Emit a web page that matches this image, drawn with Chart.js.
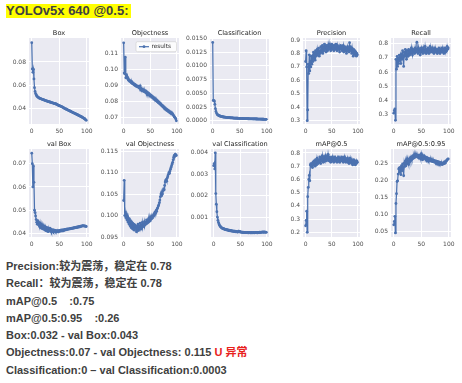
<!DOCTYPE html>
<html><head><meta charset="utf-8">
<script src="https://cdn.jsdelivr.net/npm/chart.js@4.4.1/dist/chart.umd.min.js"></script>
<style>
body{margin:0;background:#fff;}
#root{position:relative;width:462px;height:383px;overflow:hidden;background:#fff;}
canvas{position:absolute;}
.hdr{position:absolute;left:6px;top:4px;height:14px;padding-right:2px;background:#ffff00;font:bold 13px "Liberation Sans",Arial,sans-serif;color:#404040;line-height:14px;white-space:nowrap;}
.ln{position:absolute;left:6px;font:bold 11px "Liberation Sans",Arial,"Noto Sans CJK SC",sans-serif;color:#404040;line-height:13px;white-space:pre;}
.red{color:#e8211c;}
</style></head><body><div id="root">
<div class="hdr">YOLOv5x 640 @0.5:</div>
<div class="ln" style="top:260px">Precision:较为震荡，稳定在 0.78</div>
<div class="ln" style="top:277px">Recall：较为震荡，稳定在 0.78</div>
<div class="ln" style="top:294.5px">mAP@0.5    :0.75</div>
<div class="ln" style="top:311.5px">mAP@0.5:0.95    :0.26</div>
<div class="ln" style="top:329px">Box:0.032 - val Box:0.043</div>
<div class="ln" style="top:346px">Objectness:0.07 - val Objectness: 0.115 <span class="red">U 异常</span></div>
<div class="ln" style="top:363.5px">Classification:0 – val Classification:0.0003</div>
</div>
<script>
// ---- data (epoch index 0..99) ----
const xTicks = [0, 50, 100];

const boxLoss = [0.0965,0.0740,0.0712,0.0738,0.0655,0.0580,0.0548,0.0530,0.0520,0.0512,
0.0505,0.0500,0.0497,0.0494,0.0491,0.0489,0.0487,0.0485,0.0483,0.0481,
0.0479,0.0478,0.0476,0.0474,0.0472,0.0470,0.0468,0.0467,0.0465,0.0464,
0.0462,0.0461,0.0459,0.0458,0.0456,0.0455,0.0453,0.0451,0.0450,0.0449,
0.0447,0.0446,0.0444,0.0443,0.0441,0.0439,0.0437,0.0434,0.0431,0.0428,
0.0426,0.0425,0.0423,0.0421,0.0419,0.0417,0.0414,0.0412,0.0408,0.0405,
0.0402,0.0400,0.0398,0.0396,0.0394,0.0391,0.0389,0.0386,0.0384,0.0382,
0.0379,0.0377,0.0375,0.0372,0.0370,0.0367,0.0365,0.0363,0.0361,0.0358,
0.0356,0.0354,0.0351,0.0349,0.0347,0.0344,0.0342,0.0340,0.0337,0.0335,
0.0332,0.0330,0.0327,0.0324,0.0321,0.0318,0.0315,0.0311,0.0306,0.0301];

const objLoss = [0.1170,0.0980,0.0975,0.1080,0.0950,0.0970,0.0960,0.0945,0.0950,0.0935,
0.0938,0.0928,0.0932,0.0925,0.0920,0.0926,0.0915,0.0918,0.0910,0.0912,
0.0905,0.0908,0.0900,0.0903,0.0896,0.0900,0.0893,0.0897,0.0890,0.0895,
0.0888,0.0900,0.0885,0.0872,0.0878,0.0868,0.0875,0.0865,0.0872,0.0862,
0.0870,0.0858,0.0866,0.0852,0.0860,0.0848,0.0855,0.0845,0.0850,0.0840,
0.0844,0.0836,0.0840,0.0830,0.0834,0.0825,0.0828,0.0818,0.0822,0.0812,
0.0815,0.0806,0.0810,0.0800,0.0803,0.0794,0.0797,0.0788,0.0791,0.0782,
0.0785,0.0776,0.0779,0.0770,0.0773,0.0764,0.0767,0.0758,0.0761,0.0753,
0.0755,0.0747,0.0750,0.0742,0.0745,0.0737,0.0740,0.0732,0.0735,0.0727,
0.0730,0.0722,0.0725,0.0717,0.0712,0.0706,0.0703,0.0697,0.0692,0.0680];

const clsLoss = [0.01430,0.00370,0.00365,0.00360,0.00300,0.00220,0.00170,0.00140,0.00122,0.00110,
0.00102,0.00096,0.00091,0.00087,0.00083,0.00080,0.00077,0.00075,0.00072,0.00070,
0.00068,0.00067,0.00065,0.00064,0.00062,0.00061,0.00060,0.00059,0.00058,0.00057,
0.00056,0.00055,0.00054,0.00053,0.00052,0.00052,0.00051,0.00050,0.00049,0.00049,
0.00048,0.00047,0.00047,0.00046,0.00046,0.00045,0.00045,0.00044,0.00044,0.00043,
0.00043,0.00042,0.00042,0.00041,0.00041,0.00040,0.00040,0.00040,0.00039,0.00039,
0.00038,0.00038,0.00037,0.00037,0.00037,0.00036,0.00036,0.00036,0.00035,0.00035,
0.00035,0.00034,0.00034,0.00034,0.00033,0.00033,0.00033,0.00032,0.00032,0.00032,
0.00031,0.00031,0.00031,0.00030,0.00030,0.00030,0.00029,0.00029,0.00029,0.00028,
0.00028,0.00028,0.00027,0.00027,0.00027,0.00026,0.00026,0.00026,0.00025,0.00025];

const precision = [0.74,0.82,0.70,0.30,0.38,0.72,0.65,0.79,0.67,0.74,
0.70,0.78,0.72,0.77,0.74,0.81,0.76,0.79,0.75,0.82,
0.78,0.80,0.83,0.79,0.81,0.84,0.78,0.82,0.80,0.85,
0.81,0.83,0.86,0.80,0.84,0.82,0.87,0.83,0.85,0.81,
0.86,0.84,0.82,0.86,0.83,0.87,0.84,0.86,0.82,0.85,
0.87,0.83,0.86,0.84,0.82,0.86,0.85,0.83,0.87,0.84,
0.82,0.86,0.84,0.83,0.85,0.81,0.84,0.86,0.83,0.85,
0.82,0.84,0.86,0.81,0.83,0.85,0.82,0.84,0.80,0.83,
0.85,0.82,0.84,0.81,0.88,0.83,0.85,0.82,0.80,0.84,
0.81,0.78,0.83,0.80,0.82,0.79,0.81,0.78,0.80,0.79];

const recall = [0.31,0.33,0.34,0.26,0.69,0.62,0.71,0.64,0.70,0.66,
0.72,0.68,0.71,0.66,0.73,0.69,0.75,0.70,0.64,0.74,
0.71,0.76,0.72,0.69,0.75,0.73,0.71,0.76,0.74,0.72,
0.75,0.73,0.77,0.74,0.72,0.76,0.74,0.75,0.73,0.77,
0.74,0.76,0.81,0.75,0.73,0.77,0.74,0.76,0.72,0.75,
0.77,0.74,0.76,0.73,0.77,0.75,0.74,0.78,0.75,0.73,
0.76,0.74,0.77,0.75,0.73,0.76,0.78,0.74,0.76,0.75,
0.77,0.74,0.76,0.73,0.75,0.77,0.74,0.76,0.75,0.73,
0.76,0.74,0.77,0.75,0.73,0.76,0.74,0.75,0.77,0.74,
0.76,0.73,0.75,0.77,0.74,0.76,0.75,0.78,0.76,0.77];

const valBox = [0.0745,0.0700,0.0600,0.0690,0.0620,0.0500,0.0490,0.0475,0.0460,0.0448,
0.0440,0.0455,0.0438,0.0448,0.0430,0.0445,0.0425,0.0440,0.0422,0.0437,
0.0420,0.0433,0.0418,0.0430,0.0415,0.0428,0.0412,0.0426,0.0410,0.0424,
0.0408,0.0420,0.0412,0.0423,0.0410,0.0418,0.0408,0.0416,0.0410,0.0415,
0.0408,0.0414,0.0410,0.0413,0.0407,0.0412,0.0409,0.0411,0.0406,0.0412,
0.0409,0.0413,0.0410,0.0414,0.0411,0.0415,0.0412,0.0416,0.0413,0.0417,
0.0415,0.0418,0.0416,0.0419,0.0417,0.0420,0.0418,0.0420,0.0419,0.0421,
0.0420,0.0422,0.0421,0.0423,0.0422,0.0424,0.0423,0.0425,0.0424,0.0426,
0.0425,0.0427,0.0426,0.0428,0.0427,0.0429,0.0428,0.0430,0.0429,0.0432,
0.0431,0.0433,0.0432,0.0434,0.0433,0.0432,0.0433,0.0431,0.0432,0.0430];

const valObj = [0.1035,0.1082,0.1000,0.1008,0.0995,0.1003,0.0990,0.0998,0.0985,0.0994,
0.0980,0.0992,0.0976,0.0988,0.0972,0.0985,0.0970,0.0982,0.0968,0.0980,
0.0966,0.0978,0.0970,0.0975,0.0962,0.0976,0.0968,0.0980,0.0965,0.0974,
0.0970,0.0982,0.0968,0.0976,0.0972,0.0984,0.0974,0.0980,0.0976,0.0986,
0.0978,0.0984,0.0980,0.0990,0.0982,0.0988,0.0984,0.0992,0.0986,0.0994,
0.0988,0.0996,0.0992,0.0998,0.0994,0.1000,0.0998,0.1004,0.1002,0.1008,
0.1006,0.1012,0.1010,0.1016,0.1018,0.1022,0.1025,0.1030,0.1036,0.1044,
0.1050,0.1046,0.1054,0.1050,0.1058,0.1062,0.1060,0.1070,0.1078,0.1082,
0.1084,0.1080,0.1088,0.1092,0.1096,0.1100,0.1098,0.1104,0.1108,0.1112,
0.1116,0.1120,0.1124,0.1130,0.1136,0.1140,0.1138,0.1143,0.1141,0.1140];

const valCls = [0.00340,0.00350,0.00325,0.00400,0.00210,0.00160,0.00125,0.00100,0.00085,0.00075,
0.00068,0.00062,0.00058,0.00055,0.00052,0.00050,0.00048,0.00047,0.00045,0.00046,
0.00043,0.00044,0.00041,0.00042,0.00040,0.00041,0.00039,0.00040,0.00037,0.00039,
0.00037,0.00036,0.00038,0.00035,0.00036,0.00034,0.00035,0.00033,0.00034,0.00032,
0.00034,0.00031,0.00033,0.00031,0.00032,0.00030,0.00032,0.00034,0.00031,0.00033,
0.00030,0.00031,0.00029,0.00030,0.00028,0.00030,0.00029,0.00027,0.00029,0.00028,
0.00027,0.00029,0.00028,0.00027,0.00028,0.00026,0.00028,0.00027,0.00028,0.00026,
0.00027,0.00028,0.00026,0.00027,0.00028,0.00027,0.00026,0.00028,0.00027,0.00029,
0.00027,0.00028,0.00026,0.00028,0.00027,0.00029,0.00028,0.00030,0.00028,0.00029,
0.00030,0.00029,0.00031,0.00030,0.00029,0.00031,0.00030,0.00029,0.00030,0.00029];

const map50 = [0.25,0.29,0.36,0.20,0.47,0.54,0.60,0.63,0.59,0.71,
0.72,0.70,0.72,0.69,0.73,0.71,0.74,0.72,0.70,0.75,
0.73,0.71,0.76,0.74,0.72,0.75,0.73,0.77,0.74,0.72,
0.76,0.74,0.78,0.75,0.73,0.77,0.75,0.74,0.78,0.76,
0.74,0.77,0.75,0.79,0.76,0.74,0.77,0.75,0.73,0.76,
0.75,0.77,0.74,0.76,0.73,0.75,0.77,0.74,0.76,0.75,
0.73,0.76,0.74,0.77,0.75,0.73,0.76,0.74,0.75,0.77,
0.74,0.76,0.73,0.75,0.77,0.74,0.76,0.73,0.75,0.74,
0.76,0.73,0.75,0.72,0.74,0.76,0.73,0.75,0.72,0.74,
0.71,0.73,0.75,0.72,0.74,0.71,0.73,0.72,0.74,0.73];

const map5095 = [0.070,0.080,0.095,0.046,0.133,0.162,0.198,0.200,0.220,0.235,
0.238,0.225,0.240,0.218,0.245,0.230,0.250,0.236,0.215,0.252,
0.242,0.258,0.244,0.262,0.250,0.265,0.255,0.248,0.264,0.256,
0.268,0.260,0.270,0.263,0.272,0.266,0.275,0.268,0.277,0.270,
0.278,0.272,0.276,0.270,0.274,0.268,0.276,0.270,0.274,0.266,
0.280,0.270,0.262,0.272,0.266,0.274,0.268,0.271,0.265,0.269,
0.263,0.268,0.262,0.266,0.260,0.265,0.259,0.264,0.258,0.262,
0.257,0.261,0.256,0.260,0.255,0.259,0.254,0.258,0.253,0.257,
0.252,0.256,0.251,0.255,0.250,0.254,0.249,0.253,0.248,0.252,
0.250,0.254,0.251,0.256,0.253,0.258,0.260,0.262,0.264,0.265];

const boxTicks = [0.04, 0.06, 0.08];
const objTicks = [0.07, 0.08, 0.09, 0.10, 0.11];
const clsTicks = [0, 0.0025, 0.005, 0.0075, 0.01, 0.0125, 0.015];
const precTicks = [0.3, 0.4, 0.5, 0.6, 0.7, 0.8, 0.9];
const recTicks = [0.3, 0.4, 0.5, 0.6, 0.7, 0.8];
const valBoxTicks = [0.04, 0.05, 0.06, 0.07];
const valObjTicks = [0.095, 0.100, 0.105, 0.110, 0.115];
const valClsTicks = [0.001, 0.002, 0.003, 0.004];
const map50Ticks = [0.2, 0.3, 0.4, 0.5, 0.6, 0.7, 0.8];
const map5095Ticks = [0.05, 0.10, 0.15, 0.20, 0.25];

// ---- layout (plot-area rectangles: left, right, top, bottom) ----
const panels = [
 {title:'Box', data:boxLoss, ticks:boxTicks, dec:2, ymin:0.027, ymax:0.1005, r:[29,89,38,124]},
 {title:'Objectness', data:objLoss, ticks:objTicks, dec:2, ymin:0.066, ymax:0.1200, r:[121,178.5,38,124], legend:true},
 {title:'Classification', data:clsLoss, ticks:clsTicks, dec:4, ymin:-0.0006, ymax:0.0151, r:[210,269,38,124]},
 {title:'Precision', data:precision, ticks:precTicks, dec:1, ymin:0.275, ymax:0.915, r:[303,360,38,124]},
 {title:'Recall', data:recall, ticks:recTicks, dec:1, ymin:0.234, ymax:0.840, r:[391,451,38,124]},
 {title:'val Box', data:valBox, ticks:valBoxTicks, dec:2, ymin:0.0385, ymax:0.0763, r:[29,88.5,149,236.5]},
 {title:'val Objectness', data:valObj, ticks:valObjTicks, dec:3, ymin:0.0950, ymax:0.1155, r:[121,178.5,149,236.5]},
 {title:'val Classification', data:valCls, ticks:valClsTicks, dec:3, ymin:0.00007, ymax:0.00418, r:[211,269,149,236.5]},
 {title:'mAP@0.5', data:map50, ticks:map50Ticks, dec:1, ymin:0.165, ymax:0.830, r:[303,360,149,236.5]},
 {title:'mAP@0.5:0.95', data:map5095, ticks:map5095Ticks, dec:2, ymin:0.034, ymax:0.294, r:[391,451,149,236.5]}
];

const BLUE = '#4C72B0';
const TICKFONT = {family:'DejaVu Sans', size:6};
const LW = 30, RW = 10, TH = 14, BH = 14;

const bgPlugin = {id:'bg', beforeDraw(c){const a=c.chartArea,x=c.ctx;x.save();x.fillStyle='#EAEAF2';x.fillRect(a.left,a.top,a.right-a.left,a.bottom-a.top);x.restore();}};
const titlePlugin = t => ({id:'ttl', afterDraw(c){const a=c.chartArea,x=c.ctx;x.save();x.font='6.6px "DejaVu Sans"';x.fillStyle='#262626';x.textAlign='center';x.textBaseline='middle';x.fillText(t,(a.left+a.right)/2,a.top-5);x.restore();}});
const legendPlugin = {id:'lg', afterDatasetsDraw(c){
  const a=c.chartArea,x=c.ctx; const w=40.5,h=10; const bx=a.right-2.5-w, by=a.top+3.7;
  x.save();
  x.fillStyle='rgba(255,255,255,0.85)'; x.strokeStyle='#cccccc'; x.lineWidth=0.6;
  x.beginPath(); x.roundRect(bx,by,w,h,1.5); x.fill(); x.stroke();
  const my=by+h/2;
  x.strokeStyle=BLUE; x.lineWidth=1.2; x.beginPath(); x.moveTo(bx+3,my); x.lineTo(bx+13,my); x.stroke();
  x.fillStyle=BLUE; x.beginPath(); x.arc(bx+8,my,1.4,0,Math.PI*2); x.fill();
  x.fillStyle='#262626'; x.font='5.8px "DejaVu Sans"'; x.textAlign='left'; x.textBaseline='middle';
  x.fillText(c.data.datasets[0].label, bx+15.5, my);
  x.restore();
}};

const root = document.getElementById('root');
panels.forEach(p => {
  const [l, r, t, b] = p.r;
  const cv = document.createElement('canvas');
  const W = Math.round((r - l) + LW + RW), H = Math.round((b - t) + TH + BH);
  cv.width = W; cv.height = H;
  cv.style.left = (l - LW) + 'px'; cv.style.top = (t - TH) + 'px';
  cv.style.width = W + 'px'; cv.style.height = H + 'px';
  root.appendChild(cv);
  const grid = {color:'#ffffff', lineWidth:1, drawTicks:false};
  const plugins = [bgPlugin, titlePlugin(p.title)];
  if (p.legend) plugins.push(legendPlugin);
  new Chart(cv, {
    type:'line',
    data:{datasets:[{label:'results', data:p.data.map((v,i)=>({x:i,y:v})),
      borderColor:BLUE, backgroundColor:BLUE, borderWidth:1.25, pointRadius:1.4,
      pointBorderWidth:0, pointHoverRadius:0, tension:0}]},
    options:{
      responsive:false, animation:false, events:[], devicePixelRatio:1,
      layout:{padding:{top:TH, right:RW, left:0, bottom:0}},
      plugins:{legend:{display:false}, tooltip:{enabled:false}, title:{display:false}},
      scales:{
        x:{type:'linear', min:-5, max:104,
          afterBuildTicks:s=>{s.ticks = xTicks.map(v=>({value:v}));},
          afterFit:s=>{s.height = BH;},
          grid, border:{display:false},
          ticks:{font:TICKFONT, color:'#4d4d4d', padding:4, maxRotation:0, autoSkip:false, callback:v=>String(v)}},
        y:{type:'linear', min:p.ymin, max:p.ymax,
          afterBuildTicks:s=>{s.ticks = p.ticks.map(v=>({value:v}));},
          afterFit:s=>{s.width = LW;},
          grid, border:{display:false},
          ticks:{font:TICKFONT, color:'#4d4d4d', padding:3, autoSkip:false, callback:v=>Number(v).toFixed(p.dec)}}
      }
    },
    plugins
  });
});
</script>
</body></html>
